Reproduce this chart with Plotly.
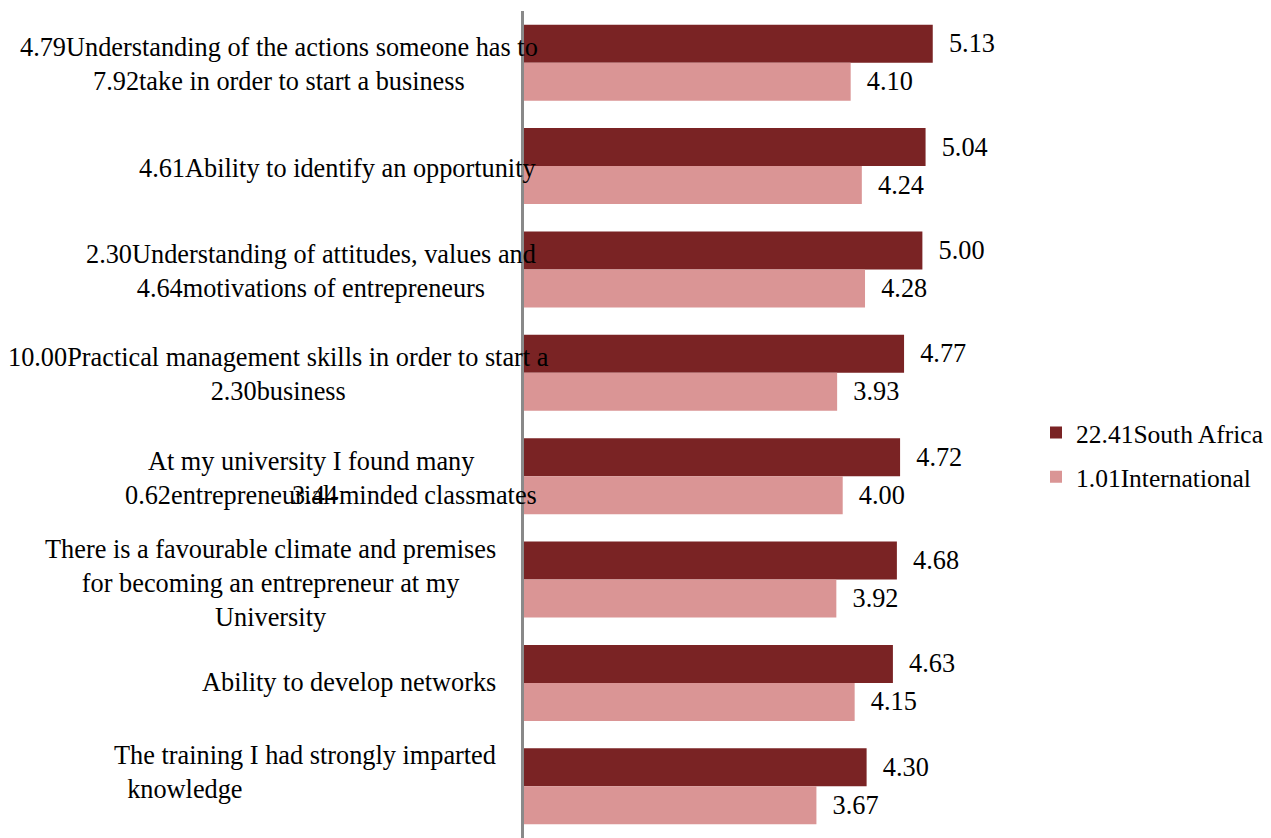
import plotly.graph_objects as go

# Survey items (top to bottom) and mean scores
categories = [
    "4.79Understanding of the actions someone has to<br>7.92take in order to start a business",
    "4.61Ability to identify an opportunity",
    "2.30Understanding of attitudes, values and<br>4.64motivations of entrepreneurs",
    "10.00Practical management skills in order to start a<br>2.30business",
    "At my university I found many" + "\u00a0" * 6 + "<br>0.62entrepreneurial-minded classmates",
    "There is a favourable climate and premises<br>for becoming an entrepreneur at my<br>University",
    "Ability to develop networks",
    "The training I had strongly imparted<br>\u00a0\u00a0knowledge",
]
south_africa = [5.13, 5.04, 5.00, 4.77, 4.72, 4.68, 4.63, 4.30]
international = [4.10, 4.24, 4.28, 3.93, 4.00, 3.92, 4.15, 3.67]
series_names = ["22.41South Africa", "1.01International"]
overlay_text = "3.44"

FONT = "Liberation Serif, Times New Roman, serif"
FS = 26.3
FS_LEGEND = 25.5
DARK = "#7a2324"
LIGHT = "#da9595"

L, R, T, B = 524, 253, 11, 0
W, H = 1271, 838
PW = W - L - R

fig = go.Figure()
for name, vals, col in [(series_names[0], south_africa, DARK),
                        (series_names[1], international, LIGHT)]:
    fig.add_trace(go.Bar(
        y=categories, x=vals, orientation="h", name=name,
        marker=dict(color=col, line=dict(width=0)),
        texttemplate="\u00a0\u00a0%{x:.2f}", textposition="outside",
        constraintext="none", cliponaxis=False,
        textfont=dict(family=FONT, size=FS, color="#000000"),
        legendgroup=name,
    ))

# Category labels: right edge (px), alignment and vertical nudge of each block
label_right_px = [540, 538, 538, 551, 539, 498, 498, 498]
label_align = ["center"] * 7 + ["left"]
label_yshift = [-2, -2, -2, -2, -2, -4, 0, 14]
annotations = []
for cat, rpx, al, ys in zip(categories, label_right_px, label_align, label_yshift):
    annotations.append(dict(
        text=cat, xref="paper", yref="y", x=(rpx - L) / PW, y=cat,
        xanchor="right", yanchor="middle", align=al, showarrow=False,
        yshift=ys,
        font=dict(family=FONT, size=FS, color="#000000"),
    ))
annotations.append(dict(
    text=overlay_text, xref="paper", yref="y",
    x=(315 - L) / PW, y=categories[4], yshift=label_yshift[4] - 17,
    xanchor="center", yanchor="middle", showarrow=False,
    font=dict(family=FONT, size=FS, color="#000000"),
))

fig.update_layout(
    width=W, height=H,
    margin=dict(l=L, r=R, t=T, b=B),
    paper_bgcolor="white", plot_bgcolor="white",
    barmode="group", bargap=0.265, bargroupgap=0,
    font=dict(family=FONT, size=FS, color="#000000"),
    xaxis=dict(range=[0, 6.2], visible=False, showgrid=False, zeroline=False),
    yaxis=dict(autorange="reversed", showticklabels=False, ticks="",
               showgrid=False, zeroline=False,
               showline=True, linecolor="#898989", linewidth=3),
    legend=dict(x=(1036 - L) / PW, y=(H - B - 455) / (H - T - B),
                xanchor="left", yanchor="middle",
                traceorder="grouped", tracegroupgap=8,
                font=dict(family=FONT, size=FS_LEGEND, color="#000000"),
                bgcolor="rgba(0,0,0,0)"),
    annotations=annotations,
    showlegend=True,
)

fig.write_html("out.html")
